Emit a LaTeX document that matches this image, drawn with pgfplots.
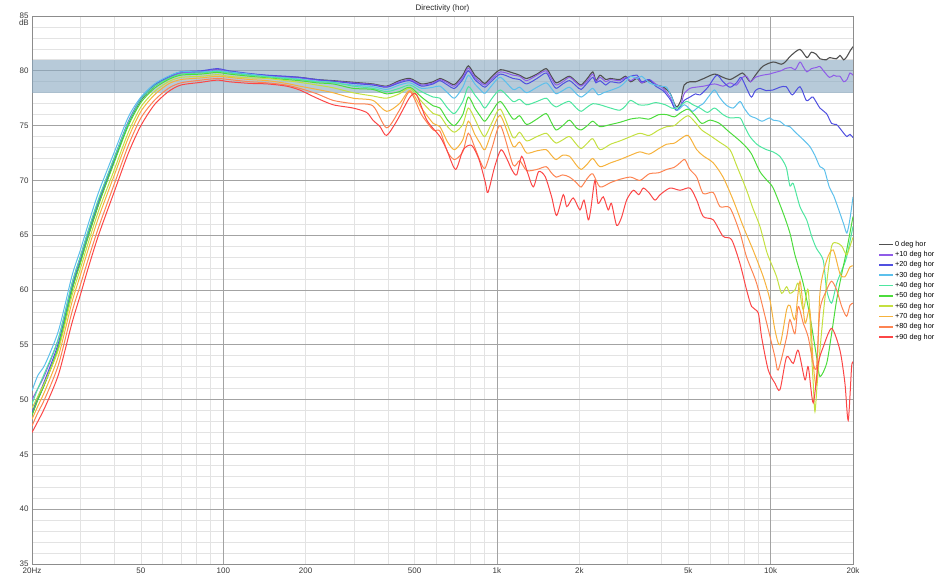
\documentclass[border=0pt]{standalone}
\usepackage{fontspec}
\setmainfont{Liberation Sans}
\usepackage{pgfplots}
\pgfplotsset{compat=1.18}

\definecolor{c00}{HTML}{505050}
\definecolor{c10}{HTML}{8F5CE8}
\definecolor{c20}{HTML}{5050E0}
\definecolor{c30}{HTML}{5CC0EC}
\definecolor{c40}{HTML}{4EE6A0}
\definecolor{c50}{HTML}{4CDC3C}
\definecolor{c60}{HTML}{C4E040}
\definecolor{c70}{HTML}{F6B23C}
\definecolor{c80}{HTML}{FD8452}
\definecolor{c90}{HTML}{FC4646}
\definecolor{bandc}{RGB}{135,167,192}

\begin{document}
\begin{tikzpicture}
\useasboundingbox (-32pt,-13pt) rectangle (911pt,564pt);
\begin{axis}[
  at={(0pt,0pt)}, anchor=south west,
  scale only axis, width=821pt, height=548pt,
  clip mode=individual,
  xmode=log, xmin=20, xmax=20000, ymin=35, ymax=85,
  xtick={20,50,100,200,500,1000,2000,5000,10000,20000},
  xticklabels={20Hz,50,100,200,500,1k,2k,5k,10k,20k},
  minor xtick={20,30,40,50,60,70,80,90,200,300,400,500,600,700,800,900,2000,3000,4000,5000,6000,7000,8000,9000,20000},
  extra x ticks={100,1000,10000},
  extra x tick labels={,,},
  extra x tick style={grid=major},
  ytick={35,40,...,85}, minor y tick num=4,
  xmajorgrids=false, xminorgrids=true, ymajorgrids=true, yminorgrids=true,
  major grid style={draw=black!36, line width=0.7pt},
  minor grid style={draw=black!11, line width=0.7pt},
  axis line style={draw=black!45, line width=0.7pt},
  major tick length=0pt, minor tick length=0pt,
  tick label style={font=\fontsize{8}{9}\selectfont, text=black!78},
  /pgf/number format/assume math mode=true,
  legend style={at={(1,1)}, anchor=north west, xshift=22pt, yshift=-221.5pt,
    draw=none, fill=none, font=\fontsize{7.3}{8}\selectfont,
    nodes={inner sep=1.2pt, text height=5.5pt, text depth=1.5pt}, row sep=0.9pt},
  legend cell align=left,
  legend image code/.code={\draw[#1, line width=1.7pt] (0pt,0pt) -- (14pt,0pt);},
]
\addplot[draw=none, fill=bandc, fill opacity=0.6, forget plot] coordinates {(20,78) (20000,78) (20000,81) (20,81)} -- cycle;

% 0 deg
\addplot[color=c00, line width=1.1pt, smooth, tension=0.45] coordinates {
(20,48.6) (21,50.0) (22.3,51.5) (25,54.8) (28,60.0) (30,62.5) (32,64.8) (35,67.8) (40,71.8) (45,75.2) (50,77.3) (56,78.6) (63,79.35) (70,79.8) (83,79.9) (95,80.1) (105,79.9)
(125,79.7) (145,79.55) (170,79.45) (190,79.4) (220,79.2) (252,79.1) (298,78.95) (352,78.8) (395,78.6) (440,79.1) (481,79.3) (530,78.8) (585,79.0) (619,79.3) (660,79.0) (700,78.75) (750,79.6) (786,80.45) (830,79.6) (867,79.2) (904,78.85) (960,79.5) (1030,80.1) (1145,79.8) (1210,79.6) (1284,79.3) (1400,79.7) (1513,80.2) (1580,79.5) (1645,78.9) (1740,79.2) (1842,79.5) (1950,79.0) (2030,78.7) (2140,79.3) (2240,79.9) (2300,79.1) (2380,79.6) (2500,79.2)
(2590,79.3) (2814,79.2) (2950,79.5) (3080,79.0) (3250,79.3) (3380,78.9) (3600,79.1) (3800,78.7) (4040,78.55) (4290,77.95) (4450,77.0) (4550,76.7) (4700,77.3) (4830,78.7) (5070,79.0) (5320,79.0) (5700,79.3) (6240,79.7) (6700,79.4) (7100,79.2) (7500,79.5) (7900,79.8) (8170,79.4) (8440,79.0) (8800,79.6) (9350,80.4) (10200,80.8) (10930,80.6) (11300,80.8) (11880,81.4) (12800,81.95) (13570,81.2) (14090,81.7) (14690,81.5) (15140,81.1) (15960,81.0) (16400,81.2) (17400,81.1) (17920,81.4) (18500,81.0) (19000,81.3) (19500,81.8) (20000,82.2)};
\addlegendentry{0 deg hor}

% +10
\addplot[color=c10, line width=1pt, smooth, tension=0.45] coordinates {
(20,50.0) (21,51.0) (22.3,52.3) (25,55.6) (28,60.6) (30,63.0) (32,65.3) (35,68.2) (40,72.1) (45,75.4) (50,77.5) (56,78.7) (63,79.4) (70,79.8) (83,79.9) (95,80.1) (105,79.9)
(125,79.7) (145,79.55) (170,79.45) (190,79.35) (220,79.15) (252,79.05) (298,78.9) (352,78.75) (395,78.55) (440,79.0) (481,79.2) (530,78.7) (585,78.9) (619,79.2) (660,78.9) (700,78.6) (750,79.4) (786,80.25) (830,79.4) (867,79.0) (904,78.7) (960,79.3) (1030,79.9) (1145,79.6) (1210,79.5) (1284,79.1) (1400,79.6) (1513,80.0) (1580,79.3) (1645,78.7) (1740,79.0) (1842,79.4) (1950,78.9) (2030,78.6) (2140,79.1) (2240,79.7) (2300,79.0) (2380,79.4) (2500,79.0)
(2590,79.2) (2814,79.1) (2950,79.4) (3080,79.1) (3250,79.4) (3380,78.9) (3600,79.2) (3800,78.8) (4040,78.4) (4290,77.6) (4450,76.6) (4550,76.4) (4700,76.9) (4830,77.9) (5070,78.4) (5320,78.5) (5700,78.6) (6240,78.8) (6700,78.6) (7100,78.9) (7500,78.7) (7900,79.4) (8170,79.5) (8440,79.0) (8800,79.4) (9350,79.6) (9900,79.7) (10200,79.8) (10900,80.0) (11300,80.2) (11880,80.3) (12300,80.1) (12800,80.8) (13200,80.3) (13570,79.9) (14100,80.2) (14700,80.3) (15140,80.4) (15600,80.0) (16400,79.4) (17000,79.6) (17400,79.5) (17920,79.5) (18500,79.0) (19000,79.2) (19500,79.8) (20000,79.6)};
\addlegendentry{+10 deg hor}

% +20
\addplot[color=c20, line width=1pt, smooth, tension=0.45] coordinates {
(20,48.8) (21,50.2) (22.3,51.8) (25,55.2) (28,60.3) (30,62.8) (32,65.1) (35,68.0) (40,72.0) (45,75.3) (50,77.4) (56,78.7) (63,79.45) (70,79.9) (83,80.0) (95,80.2) (105,80.0)
(125,79.75) (145,79.6) (170,79.5) (190,79.4) (220,79.2) (252,79.05) (298,78.85) (352,78.7) (395,78.5) (440,78.9) (481,79.1) (530,78.6) (585,78.8) (619,79.1) (660,78.7) (700,78.4) (750,79.2) (786,80.0) (830,79.2) (867,78.8) (904,78.5) (960,79.1) (1030,79.7) (1145,79.3) (1210,79.2) (1284,78.8) (1400,79.3) (1513,79.8) (1580,79.0) (1645,78.4) (1740,78.8) (1842,79.1) (1950,78.6) (2030,78.3) (2140,78.9) (2240,79.4) (2300,78.9) (2380,79.1) (2500,78.7)
(2590,79.0) (2814,78.9) (2950,79.3) (3080,79.5) (3250,79.6) (3380,79.0) (3600,79.2) (3800,78.6) (4040,78.2) (4290,77.4) (4450,76.6) (4550,76.4) (4700,76.8) (4830,77.3) (5070,77.6) (5320,77.9) (5518,77.8) (5900,78.5) (6350,79.6) (6700,79.0) (7100,78.5) (7500,78.9) (7800,79.4) (8170,78.4) (8500,77.6) (8800,78.2) (9140,78.4) (9600,78.2) (10200,78.25) (10800,78.5) (11400,78.55) (12000,77.8) (12800,78.55) (13500,77.3) (14000,77.5) (14300,77.6) (15140,76.6) (16000,76.1) (16700,75.2) (17400,75.1) (17920,74.75) (18500,74.3) (19000,74.0) (19500,74.2) (20000,73.9)};
\addlegendentry{+20 deg hor}

% +30
\addplot[color=c30, line width=1pt, smooth, tension=0.45] coordinates {
(20,50.8) (21,52.2) (22.3,53.2) (25,56.3) (28,61.3) (30,63.6) (32,65.9) (35,68.9) (40,72.6) (45,75.8) (50,77.6) (56,78.8) (63,79.5) (70,79.9) (83,79.9) (95,80.0) (105,79.9)
(125,79.7) (145,79.5) (170,79.35) (190,79.25) (220,79.05) (252,78.9) (298,78.7) (352,78.55) (395,78.3) (440,78.7) (481,78.9) (530,78.4) (585,78.5) (619,78.6) (660,78.0) (700,77.5) (750,78.5) (786,79.6) (830,78.8) (867,78.3) (904,77.95) (960,78.7) (1030,79.4) (1145,78.3) (1210,78.5) (1284,78.0) (1400,78.5) (1513,78.9) (1580,78.4) (1645,77.9) (1740,78.2) (1842,78.5) (1950,77.9) (2030,77.6) (2140,78.0) (2240,78.4) (2345,77.8) (2450,78.0)
(2590,78.2) (2814,78.55) (2950,79.0) (3080,79.5) (3250,79.3) (3380,79.5) (3600,78.9) (3800,78.7) (4040,78.55) (4170,78.5) (4350,77.6) (4550,76.4) (4830,76.9) (5070,76.5) (5200,76.3) (5500,76.8) (5670,77.0) (6000,77.8) (6240,78.25) (6500,77.6) (6860,76.9) (7300,76.6) (7728,77.2) (8000,76.6) (8400,75.9) (8800,75.7) (9300,75.4) (9900,75.7) (10200,75.5) (10800,75.4) (11300,75.0) (11750,74.9) (12300,74.4) (12800,74.0) (13300,73.6) (13900,73.1) (14500,72.3) (15140,71.25) (15700,71.0) (16380,69.4) (17000,68.6) (17920,67.0) (18500,66.0) (19000,65.2) (19500,66.5) (20000,68.5)};
\addlegendentry{+30 deg hor}

% +40
\addplot[color=c40, line width=1pt, smooth, tension=0.45] coordinates {
(20,49.6) (21,51.0) (22.3,52.5) (25,55.6) (28,60.6) (30,63.0) (32,65.3) (35,68.3) (40,72.1) (45,75.3) (50,77.4) (56,78.6) (63,79.3) (70,79.7) (83,79.8) (95,79.95) (105,79.8)
(125,79.6) (145,79.45) (170,79.3) (190,79.2) (220,79.0) (252,78.95) (298,78.6) (352,78.4) (395,78.1) (440,78.4) (481,78.7) (530,78.1) (585,77.6) (619,77.5) (660,76.6) (700,76.1) (750,77.2) (786,78.55) (830,77.8) (867,77.2) (904,76.6) (960,77.5) (1030,78.25) (1145,77.2) (1210,77.4) (1284,76.9) (1400,77.2) (1513,77.5) (1580,77.0) (1645,76.7) (1740,77.0) (1842,77.2) (1950,76.6) (2030,76.3) (2140,76.7) (2240,77.0) (2378,76.9)
(2600,76.6) (2814,76.4) (2950,76.8) (3080,77.3) (3300,76.9) (3550,76.9) (3800,77.1) (4120,76.9) (4350,76.6) (4550,76.6) (4920,77.2) (5200,76.9) (5518,76.6) (5880,76.2) (6240,76.6) (6700,76.0) (7100,75.7) (7728,75.7) (8000,75.0) (8400,74.0) (8900,73.3) (9300,73.0) (9668,72.8) (10200,72.6) (10800,72.2) (11400,71.2) (11760,69.5) (12100,69.7) (12800,67.6) (13540,66.4) (14120,64.9) (14700,63.8) (15570,62.7) (16020,60.0) (16700,58.8) (17430,60.6) (18200,61.8) (18950,63.0) (20000,65.8)};
\addlegendentry{+40 deg hor}

% +50
\addplot[color=c50, line width=1pt, smooth, tension=0.45] coordinates {
(20,48.6) (21,50.0) (22.3,51.5) (25,54.9) (28,60.0) (30,62.4) (32,64.8) (35,67.8) (40,71.7) (45,75.0) (50,77.1) (56,78.4) (63,79.2) (70,79.6) (83,79.7) (95,79.85) (105,79.7)
(125,79.5) (145,79.35) (170,79.2) (190,79.1) (220,78.9) (252,78.8) (298,78.4) (352,78.3) (395,77.9) (440,78.1) (481,78.5) (530,77.6) (585,76.8) (619,76.6) (660,75.5) (700,75.0) (750,76.0) (786,77.6) (830,76.6) (867,75.9) (904,75.4) (960,76.3) (1030,77.2) (1145,75.6) (1210,75.9) (1284,75.1) (1400,75.6) (1513,76.1) (1580,75.3) (1645,74.6) (1740,75.0) (1842,75.5) (1950,74.8) (2030,74.6) (2140,75.0) (2240,75.4) (2378,74.9)
(2600,75.1) (2814,75.3) (3080,75.6) (3330,75.7) (3600,75.6) (3900,76.0) (4170,76.0) (4450,75.8) (4700,76.2) (5000,76.5) (5300,75.9) (5600,75.2) (6000,75.5) (6500,75.2) (7000,74.5) (7728,73.6) (8170,73.0) (8520,72.4) (9140,70.8) (9700,70.0) (10220,69.3) (11120,67.0) (11760,65.2) (12270,63.2) (13150,60.6) (13920,57.6) (14720,53.9) (15140,52.1) (16020,53.3) (16700,56.0) (17430,59.1) (18200,61.5) (18950,63.6) (20000,66.7)};
\addlegendentry{+50 deg hor}

% +60
\addplot[color=c60, line width=1pt, smooth, tension=0.45] coordinates {
(20,49.2) (21,50.3) (22.3,51.6) (25,54.6) (28,59.5) (30,61.9) (32,64.2) (35,67.2) (40,71.0) (45,74.4) (50,76.7) (56,78.1) (63,79.0) (70,79.4) (83,79.5) (95,79.65) (105,79.5)
(125,79.35) (145,79.3) (170,79.1) (190,78.95) (220,78.7) (252,78.45) (298,78.0) (352,77.7) (395,77.5) (440,77.9) (481,78.4) (530,77.2) (585,76.1) (619,75.9) (660,74.9) (700,74.4) (750,75.1) (786,76.6) (830,75.6) (867,74.6) (904,74.0) (960,75.3) (1030,76.5) (1145,73.9) (1210,74.4) (1284,73.6) (1400,74.0) (1513,74.3) (1580,73.8) (1645,73.4) (1740,73.7) (1842,74.0) (1950,73.3) (2030,72.9) (2140,73.4) (2240,73.8) (2378,72.8)
(2600,73.3) (2814,73.6) (3080,74.0) (3330,74.3) (3600,74.1) (3900,74.6) (4170,74.9) (4450,75.0) (4700,75.5) (5000,75.9) (5300,75.3) (5600,74.6) (6000,74.1) (6500,73.5) (7100,72.8) (7500,71.4) (8170,69.1) (8600,67.5) (9140,65.8) (9700,63.4) (10220,62.0) (10520,61.2) (10970,59.7) (11440,60.3) (11760,59.7) (12270,60.0) (12610,60.6) (13150,58.2) (13720,60.0) (14120,54.0) (14310,51.5) (14520,48.9) (14800,51.5) (15140,54.5) (15600,58.0) (16020,60.6) (16700,64.0) (17430,64.3) (18200,64.0) (18950,63.2) (19500,64.0) (20000,64.8)};
\addlegendentry{+60 deg hor}

% +70
\addplot[color=c70, line width=1pt, smooth, tension=0.45] coordinates {
(20,48.2) (21,49.4) (22.3,50.8) (25,54.0) (28,58.9) (30,61.3) (32,63.6) (35,66.6) (40,70.5) (45,73.9) (50,76.3) (56,77.8) (63,78.8) (70,79.2) (83,79.35) (95,79.5) (105,79.4)
(125,79.2) (145,79.1) (170,78.85) (190,78.6) (220,78.3) (252,78.0) (298,77.5) (352,77.3) (395,76.3) (440,77.0) (481,78.2) (530,76.6) (585,75.2) (619,74.9) (660,73.5) (700,72.8) (750,73.7) (786,75.4) (830,74.2) (867,73.4) (904,72.8) (960,74.5) (1030,75.9) (1145,73.1) (1210,73.5) (1284,72.5) (1400,72.7) (1513,72.8) (1580,72.3) (1645,71.9) (1740,72.3) (1842,72.2) (1950,71.4) (2030,71.0) (2140,71.5) (2240,72.0) (2378,71.25)
(2600,71.6) (2814,71.9) (3080,72.3) (3330,72.6) (3600,72.4) (3900,72.9) (4170,73.3) (4450,73.4) (4700,73.8) (5000,74.1) (5370,72.8) (5700,72.2) (6170,71.6) (6700,70.3) (7300,68.2) (7940,65.8) (8640,63.6) (9400,61.2) (9940,59.1) (10370,56.35) (10820,55.0) (11440,58.2) (11760,58.6) (12270,57.3) (12800,60.8) (13350,57.0) (13900,58.2) (14310,53.3) (14720,51.5) (15140,59.7) (16020,62.7) (16930,63.65) (17920,61.5) (18680,61.2) (19490,62.1) (20000,62.2)};
\addlegendentry{+70 deg hor}

% +80
\addplot[color=c80, line width=1pt, smooth, tension=0.45] coordinates {
(20,47.6) (21,48.8) (22.3,50.1) (25,53.2) (28,58.0) (30,60.4) (32,62.7) (35,65.7) (40,69.7) (45,73.2) (50,75.7) (56,77.3) (63,78.4) (70,78.9) (83,79.15) (95,79.3) (105,79.2)
(125,79.0) (145,78.9) (170,78.7) (190,78.4) (220,77.9) (252,77.3) (298,77.0) (352,76.8) (395,74.8) (440,76.4) (481,78.1) (530,76.0) (585,74.6) (619,74.5) (660,72.6) (700,71.9) (750,72.6) (786,74.3) (830,73.0) (867,71.8) (904,71.1) (960,73.0) (1030,75.0) (1145,71.4) (1210,71.8) (1284,70.9) (1400,71.0) (1513,71.25) (1580,70.7) (1645,70.3) (1740,70.5) (1842,70.3) (1950,69.8) (2030,69.4) (2140,70.2) (2240,70.6) (2378,69.4)
(2600,69.8) (2814,70.1) (3080,70.3) (3330,70.0) (3600,70.6) (3900,70.7) (4170,71.0) (4450,71.2) (4664,71.6) (4860,71.9) (5070,71.0) (5370,70.3) (5670,68.8) (6170,68.9) (6530,67.6) (7100,67.5) (7728,65.2) (8170,63.0) (8890,60.6) (9670,57.0) (10370,53.9) (10660,52.7) (11440,55.7) (11760,57.3) (12270,56.0) (12610,58.5) (13150,57.0) (13720,55.7) (14310,53.3) (14720,53.0) (15140,58.2) (16020,60.0) (16710,60.8) (17430,60.0) (18180,58.5) (18950,57.6) (19490,58.6) (20000,58.8)};
\addlegendentry{+80 deg hor}

% +90
\addplot[color=c90, line width=1pt, smooth, tension=0.45] coordinates {
(20,47.0) (21,48.0) (22.3,49.3) (25,52.3) (28,57.0) (30,59.5) (32,61.9) (35,65.0) (40,69.0) (45,72.5) (50,75.0) (56,76.9) (63,78.1) (70,78.7) (83,78.95) (95,79.15) (105,79.0)
(125,78.85) (145,78.8) (170,78.6) (190,78.25) (220,77.5) (252,76.9) (298,76.6) (334,76.2) (352,75.5) (374,74.9) (395,74.1) (430,75.4) (481,77.6) (509,77.8) (554,75.5) (619,74.0) (655,72.8) (706,71.0) (753,72.8) (808,73.2) (860,71.9) (907,69.8) (927,68.9) (981,71.25) (1035,72.8) (1090,71.9) (1132,71.0) (1180,70.5) (1231,72.2) (1290,70.8) (1357,69.4) (1420,70.8) (1500,70.35) (1584,68.5) (1652,66.8) (1747,68.7) (1800,67.6) (1900,68.4) (2010,67.3) (2080,68.2) (2156,66.4) (2200,67.3) (2280,70.0) (2340,67.9) (2446,68.5)
(2550,67.3) (2620,67.9) (2737,65.9) (2850,66.6) (2977,68.2) (3148,69.1) (3300,68.7) (3424,69.3) (3600,68.85) (3778,68.2) (3950,68.7) (4286,69.3) (4664,69.1) (5072,69.3) (5368,68.2) (5672,66.7) (6170,66.4) (6700,64.9) (7200,64.6) (7728,62.4) (8170,60.0) (8520,58.5) (9010,57.9) (9270,55.7) (9800,52.7) (10366,51.5) (10818,50.9) (11438,53.9) (12092,53.3) (12612,54.5) (13346,51.8) (13720,53.0) (14308,49.7) (14926,53.3) (15568,54.8) (16708,56.5) (17920,54.5) (18684,51.5) (19212,48.1) (19766,53.0) (20000,53.3)};
\addlegendentry{+90 deg hor}

\node[anchor=north east, font=\fontsize{8}{9}\selectfont, text=black!78, inner sep=0pt] at (rel axis cs:0,1) [xshift=-3pt, yshift=-4pt] {dB};
\node[anchor=base, font=\fontsize{8}{9}\selectfont, text=black!85, inner sep=0pt] at (rel axis cs:0.5,1) [yshift=5pt] {Directivity (hor)};
\end{axis}
\end{tikzpicture}
\end{document}
